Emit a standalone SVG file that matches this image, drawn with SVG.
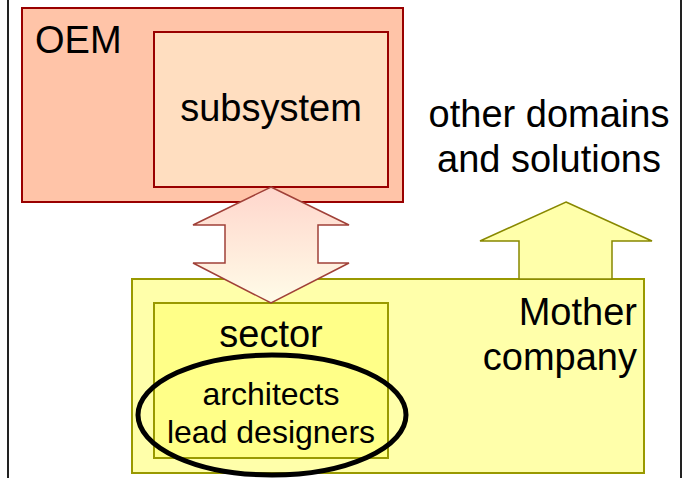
<svg xmlns="http://www.w3.org/2000/svg" width="685" height="478" viewBox="0 0 685 478">
<style>
text{font-family:"Liberation Sans",Arial,sans-serif;fill:#000}
.big{font-size:38px}
.small{font-size:32px}
.red{stroke:#990000;stroke-width:2}
.olive{stroke:#999900;stroke-width:2}
</style>
<defs>
<linearGradient id="dg" x1="0" y1="0" x2="0" y2="1">
<stop offset="0" stop-color="#FFD6CC"/>
<stop offset="1" stop-color="#FFFCE8"/>
</linearGradient>
</defs>
<rect width="685" height="478" fill="#fff"/>
<line x1="8" y1="0" x2="8" y2="478" stroke="#222" stroke-width="2"/>
<line x1="681" y1="0" x2="681" y2="478" stroke="#222" stroke-width="2"/>
<g id="oem">
<rect x="22" y="8" width="381" height="194" fill="#FFC4A8" class="red"/>
<text x="35" y="53" class="big">OEM</text>
</g>
<g id="subsystem">
<rect x="154" y="32" width="234" height="155" fill="#FFDEC0" class="red"/>
<text x="271" y="121" class="big" text-anchor="middle">subsystem</text>
</g>
<g id="other">
<text x="549" y="127" class="big" text-anchor="middle">other domains</text>
<text x="549" y="172" class="big" text-anchor="middle">and solutions</text>
</g>
<g id="mother">
<rect x="132" y="279" width="512" height="194" fill="#FFFFAA" class="olive"/>
<text x="637" y="325" class="big" text-anchor="end">Mother</text>
<text x="637" y="370" class="big" text-anchor="end">company</text>
</g>
<g id="sector">
<rect x="154" y="303" width="234" height="155" fill="#FFFF88" class="olive"/>
<text x="271" y="347" class="big" text-anchor="middle">sector</text>
</g>
<g id="architects">
<ellipse cx="272" cy="415" rx="134" ry="60" fill="none" stroke="#000" stroke-width="5"/>
<text x="271" y="405" class="small" text-anchor="middle">architects</text>
<text x="271" y="443" class="small" text-anchor="middle">lead designers</text>
</g>
<g id="connectors">
<polygon points="271,187 349,225 318,225 318,263 349,263 271,303 193,263 225,263 225,225 193,225" fill="url(#dg)" stroke="#A04038" stroke-width="1.5"/>
<polygon points="566,202 652,241 612,241 612,279 519,279 519,241 480,241" fill="#FFFFAA" stroke="#888800" stroke-width="1.5"/>
</g>
</svg>
